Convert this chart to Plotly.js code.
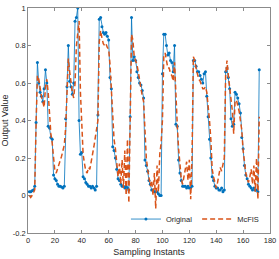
<!DOCTYPE html>
<html>
<head>
<meta charset="utf-8">
<script src="https://cdn.plot.ly/plotly-3.0.1.min.js"></script>
<style>html,body{margin:0;padding:0;background:#fff;}#chart{width:279px;height:259px;}</style>
</head>
<body>
<div id="chart"></div>
<script>
// Sampling instants 1..172
const sampleIdx = [];
for (let i = 1; i <= 172; i++) sampleIdx.push(i);

const originalValues = [
  0.02, 0.02, 0.025, 0.03, 0.05, 0.39, 0.71, 0.60, 0.55, 0.53,
  0.50, 0.57, 0.67, 0.60, 0.37, 0.36, 0.31, 0.30, 0.11, 0.09,
  0.08, 0.06, 0.05, 0.05, 0.045, 0.04, 0.05, 0.41, 0.58, 0.80,
  0.61, 0.58, 0.54, 0.60, 0.93, 0.95, 1.00, 0.40, 0.22, 0.23,
  0.10, 0.09, 0.07, 0.06, 0.05, 0.05, 0.04, 0.05, 0.04, 0.03,
  0.05, 0.43, 0.94, 0.95, 0.90, 0.87, 0.86, 0.87, 0.85, 0.83,
  0.63, 0.57, 0.26, 0.24, 0.20, 0.14, 0.09, 0.08, 0.06, 0.05,
  0.05, 0.04, 0.05, 0.04, 0.03, 0.42, 0.95, 0.72, 0.74, 0.72,
  0.66, 0.63, 0.60, 0.59, 0.56, 0.52, 0.19, 0.16, 0.13, 0.08,
  0.06, 0.03, 0.03, 0.02, 0.02, 0.02, 0.01, 0.00, 0.00, 0.65,
  0.86, 0.86, 0.80, 0.75, 0.76, 0.72, 0.71, 0.66, 0.80, 0.38,
  0.37, 0.19, 0.12, 0.08, 0.05, 0.05, 0.05, 0.04, 0.05, 0.04,
  0.04, 0.05, 0.72, 0.72, 0.69, 0.66, 0.66, 0.64, 0.62, 0.60,
  0.65, 0.66, 0.53, 0.42, 0.30, 0.20, 0.10, 0.08, 0.05, 0.04,
  0.04, 0.03, 0.03, 0.04, 0.02, 0.03, 0.66, 0.68, 0.63, 0.57,
  0.41, 0.37, 0.38, 0.55, 0.54, 0.52, 0.49, 0.44, 0.31, 0.25,
  0.16, 0.11, 0.09, 0.06, 0.05, 0.04, 0.03, 0.04, 0.03, 0.03,
  0.02, 0.67
];

const mcfisValues = [
  0.00, -0.01, 0.00, 0.02, 0.03, 0.38, 0.64, 0.62, 0.57, 0.53,
  0.50, 0.47, 0.58, 0.62, 0.55, 0.42, 0.33, 0.28, 0.20, 0.13,
  0.12, 0.14, 0.16, 0.18, 0.21, 0.24, 0.27, 0.36, 0.52, 0.73,
  0.66, 0.60, 0.55, 0.52, 0.60, 0.80, 0.88, 0.93, 0.55, 0.35,
  0.22, 0.17, 0.13, 0.12, 0.15, 0.14, 0.19, 0.22, 0.26, 0.30,
  0.34, 0.40, 0.82, 0.88, 0.84, 0.81, 0.80, 0.81, 0.79, 0.78,
  0.70, 0.58, 0.45, 0.30, 0.25, 0.17, 0.10, 0.17, 0.06, 0.19,
  0.04, 0.24, 0.00, 0.30, -0.04, 0.40, 0.86, 0.83, 0.74, 0.72,
  0.70, 0.66, 0.61, 0.57, 0.53, 0.50, 0.36, 0.20, 0.14, 0.10,
  0.05, 0.08, 0.00, 0.12, -0.07, 0.16, 0.02, 0.22, 0.28, 0.40,
  0.74, 0.76, 0.71, 0.68, 0.68, 0.65, 0.64, 0.61, 0.71, 0.50,
  0.38, 0.25, 0.15, 0.09, 0.06, 0.10, 0.13, 0.18, 0.08, 0.19,
  -0.02, 0.20, 0.74, 0.72, 0.68, 0.64, 0.62, 0.61, 0.59, 0.57,
  0.57, 0.58, 0.55, 0.49, 0.40, 0.30, 0.14, 0.10, 0.06, 0.04,
  0.07, 0.12, 0.15, 0.13, 0.16, 0.20, 0.64, 0.72, 0.64, 0.58,
  0.50, 0.45, 0.33, 0.50, 0.51, 0.48, 0.45, 0.40, 0.35, 0.24,
  0.17, 0.12, 0.09, 0.07, 0.10, 0.14, 0.06, 0.16, 0.02, 0.20,
  -0.02, 0.42
];

const xTickVals = [0, 20, 40, 60, 80, 100, 120, 140, 160, 180];
const yTickVals = [-0.2, 0, 0.2, 0.4, 0.6, 0.8, 1];
const yTickText = ['-0.2', '0', '0.2', '0.4', '0.6', '0.8', '1'];
const seriesNames = ['Original', 'McFIS'];

const FONT = '"Liberation Sans", Arial, Helvetica, sans-serif';
const TXT = '#262626';
const AX = '#6e6e6e';

const traces = [
  {
    x: sampleIdx, y: originalValues, name: seriesNames[0],
    type: 'scatter', mode: 'lines+markers',
    line: {color: '#0072BD', width: 0.8},
    marker: {color: '#0072BD', size: 3},
    cliponaxis: true
  },
  {
    x: sampleIdx, y: mcfisValues, name: seriesNames[1],
    type: 'scatter', mode: 'lines',
    line: {color: '#D95319', width: 1.5, dash: '5px,3px'}
  }
];

const layout = {
  width: 279, height: 259,
  margin: {l: 28, r: 9, t: 8, b: 26, pad: 0},
  paper_bgcolor: '#ffffff', plot_bgcolor: '#ffffff',
  font: {family: FONT, size: 7.5, color: TXT},
  showlegend: true,
  legend: {
    orientation: 'h', x: 0.975, xanchor: 'right', y: 0.062, yanchor: 'middle',
    bgcolor: 'rgba(255,255,255,0)', borderwidth: 0,
    font: {family: FONT, size: 7.5, color: TXT},
    itemwidth: 30, tracegroupgap: 0
  },
  xaxis: {
    range: [0, 180], tickmode: 'array', tickvals: xTickVals,
    ticks: 'inside', ticklen: 3, tickwidth: 0.8, tickcolor: AX,
    showline: true, linecolor: AX, linewidth: 0.8, mirror: 'ticks',
    showgrid: false, zeroline: false,
    tickfont: {family: FONT, size: 7.5, color: TXT},
    title: {text: 'Sampling Instants', font: {family: FONT, size: 9, color: TXT}, standoff: 4}
  },
  yaxis: {
    range: [-0.2, 1], tickmode: 'array', tickvals: yTickVals, ticktext: yTickText,
    ticks: 'inside', ticklen: 3, tickwidth: 0.8, tickcolor: AX,
    showline: true, linecolor: AX, linewidth: 0.8, mirror: 'ticks',
    showgrid: false, zeroline: false,
    tickfont: {family: FONT, size: 7.5, color: TXT},
    title: {text: 'Output Value', font: {family: FONT, size: 9, color: TXT}, standoff: 4}
  }
};

Plotly.newPlot('chart', traces, layout, {staticPlot: true, displayModeBar: false});
</script>
</body>
</html>
